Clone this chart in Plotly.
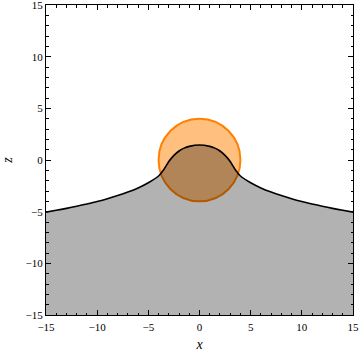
import plotly.graph_objects as go

# Profile (symmetric bump with decaying tails)
x_pts = [-15, -14, -13, -12, -11, -10, -9, -8, -7, -6, -5, -4, -3.5, -3, -2.5, -2, -1.5, -1, 0,
         1, 1.5, 2, 2.5, 3, 3.5, 4, 5, 6, 7, 8, 9, 10, 11, 12, 13, 14, 15]
z_pts = [-5.05, -4.87, -4.68, -4.47, -4.25, -4.01, -3.74, -3.44, -3.1, -2.7, -2.2, -1.55, -0.95, -0.15, 0.45, 0.87, 1.15, 1.32, 1.45,
         1.32, 1.15, 0.87, 0.45, -0.15, -0.95, -1.55, -2.2, -2.7, -3.1, -3.44, -3.74, -4.01, -4.25, -4.47, -4.68, -4.87, -5.05]

# circle: centre and radius
cx, cz, r = 0, 0, 4
x_range = [-15, 15]
z_range = [-15, 15]
tick_vals = [-15, -10, -5, 0, 5, 10, 15]

fig = go.Figure()

# baseline for the filled region
fig.add_trace(go.Scatter(x=x_range, y=[z_range[0], z_range[0]], mode="lines",
                         line=dict(width=0), showlegend=False, hoverinfo="skip"))
fig.add_trace(go.Scatter(x=x_pts, y=z_pts, mode="lines", fill="tonexty",
                         fillcolor="rgba(0,0,0,0.3)",
                         line=dict(color="black", width=1.6, shape="spline", smoothing=0.6),
                         showlegend=False))

fig.add_shape(type="circle", xref="x", yref="y",
              x0=cx - r, x1=cx + r, y0=cz - r, y1=cz + r,
              fillcolor="rgba(255,128,0,0.5)", line=dict(color="#ff8000", width=2),
              layer="below")

axis_common = dict(
    showgrid=False, zeroline=False, automargin=False,
    showline=True, linecolor="black", linewidth=1, mirror="allticks",
    ticks="inside", ticklen=5, tickcolor="black",
    tickmode="array", tickvals=tick_vals,
    minor=dict(ticks="inside", ticklen=2.5, dtick=1, tick0=0, tickcolor="black"),
    tickfont=dict(family="Liberation Serif", size=11, color="black"),
    ticklabeloverflow="allow",
)

fig.update_layout(
    width=360, height=355,
    margin=dict(l=46, r=7, t=5, b=40),
    plot_bgcolor="white", paper_bgcolor="white",
    xaxis=dict(range=x_range, ticklabelstandoff=2,
               title=dict(text="<i>x</i>", standoff=6,
                          font=dict(family="Liberation Serif", size=14, color="black")), **axis_common),
    yaxis=dict(range=z_range,
               title=dict(text="<i>z</i>", standoff=12,
                          font=dict(family="Liberation Serif", size=14, color="black")), **axis_common),
)

# drop the default page margin so the figure sits at the window's corner
fig.write_html("out.html", config={"displayModeBar": False},
               post_script="document.body.style.margin='0';")
